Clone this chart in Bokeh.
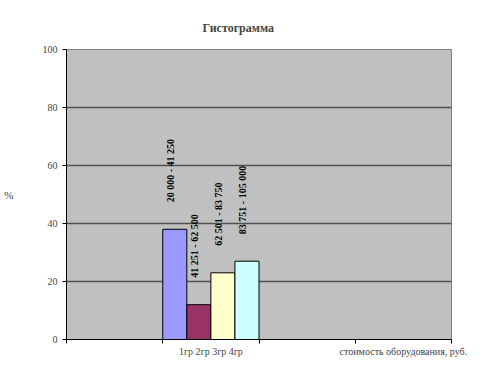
import math
from bokeh.plotting import figure
from bokeh.models import ColumnDataSource, FixedTicker, Range1d
from bokeh.core.properties import value
from bokeh.embed import file_html
from bokeh.resources import INLINE

# data
title_text = "Гистограмма"
groups = ["1гр", "2гр", "3гр", "4гр"]
values = [38, 12, 23, 27]
range_labels = ["20 000 - 41 250", "41 251 - 62 500", "62 501 - 83 750", "83 751 - 105 000"]
colors = ["#9999FF", "#993366", "#FFFFCC", "#CCFFFF"]
category_labels = ["", "1гр 2гр 3гр 4гр", "", "стоимость оборудования, руб."]
y_ticks = [0, 20, 40, 60, 80, 100]

# bars all sit in the 2nd category slot, one quarter each
slot = 1
n = len(groups)
w = 1.0 / n
xs = [slot + w * (i + 0.5) for i in range(n)]

src = ColumnDataSource(dict(x=xs, top=values, color=colors, label=range_labels, g=groups))

p = figure(width=482, height=359, output_backend="svg", toolbar_location=None,
           x_range=Range1d(0, len(category_labels)), y_range=Range1d(0, 100),
           min_border_left=66, min_border_right=31, min_border_top=49, min_border_bottom=19,
           title=title_text)
p.background_fill_color = "#C0C0C0"
p.border_fill_color = "white"
p.outline_line_color = "#808080"

p.title.text_font = "Liberation Serif"
p.title.text_font_size = "12px"
p.title.text_font_style = "bold"
p.title.align = "left"
p.title.offset = 136
p.title.standoff = 30

p.vbar(x="x", top="top", bottom=0, width=w, fill_color="color", line_color="#000000",
       line_width=1, source=src)

p.text(x="x", y="top", text="label", source=src, angle=math.pi / 2,
       text_align="left", text_baseline="middle", y_offset=-27, x_offset=-4,
       text_font=value("Liberation Serif"), text_font_size="10px", text_font_style="bold",
       text_color="black")

# x axis: ticks at slot boundaries (minor), labels at slot centers (major)
centers = [i + 0.5 for i in range(len(category_labels))]
p.xaxis.ticker = FixedTicker(ticks=centers, minor_ticks=list(range(len(category_labels) + 1)))
p.xaxis.major_label_overrides = {c: lab for c, lab in zip(centers, category_labels)}
p.xaxis.major_tick_line_color = None
p.xaxis.major_tick_out = 0
p.xaxis.major_tick_in = 0
p.xaxis.minor_tick_out = 4
p.xaxis.minor_tick_in = 0
p.xaxis.minor_tick_line_color = "black"
p.xaxis.axis_line_color = "black"
p.xaxis.major_label_text_font = "Liberation Serif"
p.xaxis.major_label_text_font_size = "10px"
p.xaxis.major_label_standoff = 2
p.xgrid.grid_line_color = None

p.yaxis.ticker = FixedTicker(ticks=y_ticks)
p.yaxis.minor_tick_line_color = None
p.yaxis.major_tick_out = 4
p.yaxis.major_tick_in = 0
p.yaxis.axis_line_color = "black"
p.yaxis.major_label_text_font = "Liberation Serif"
p.yaxis.major_label_text_font_size = "10px"
p.yaxis.axis_label = "%"
p.yaxis.axis_label_orientation = "horizontal"
p.yaxis.axis_label_text_font = "Liberation Serif"
p.yaxis.axis_label_text_font_size = "11px"
p.yaxis.axis_label_text_font_style = "normal"
p.yaxis.axis_label_standoff = 26
p.ygrid.grid_line_color = "#505050"
p.ygrid.grid_line_width = 1.5

open("out.html", "w").write(file_html(p, INLINE))
